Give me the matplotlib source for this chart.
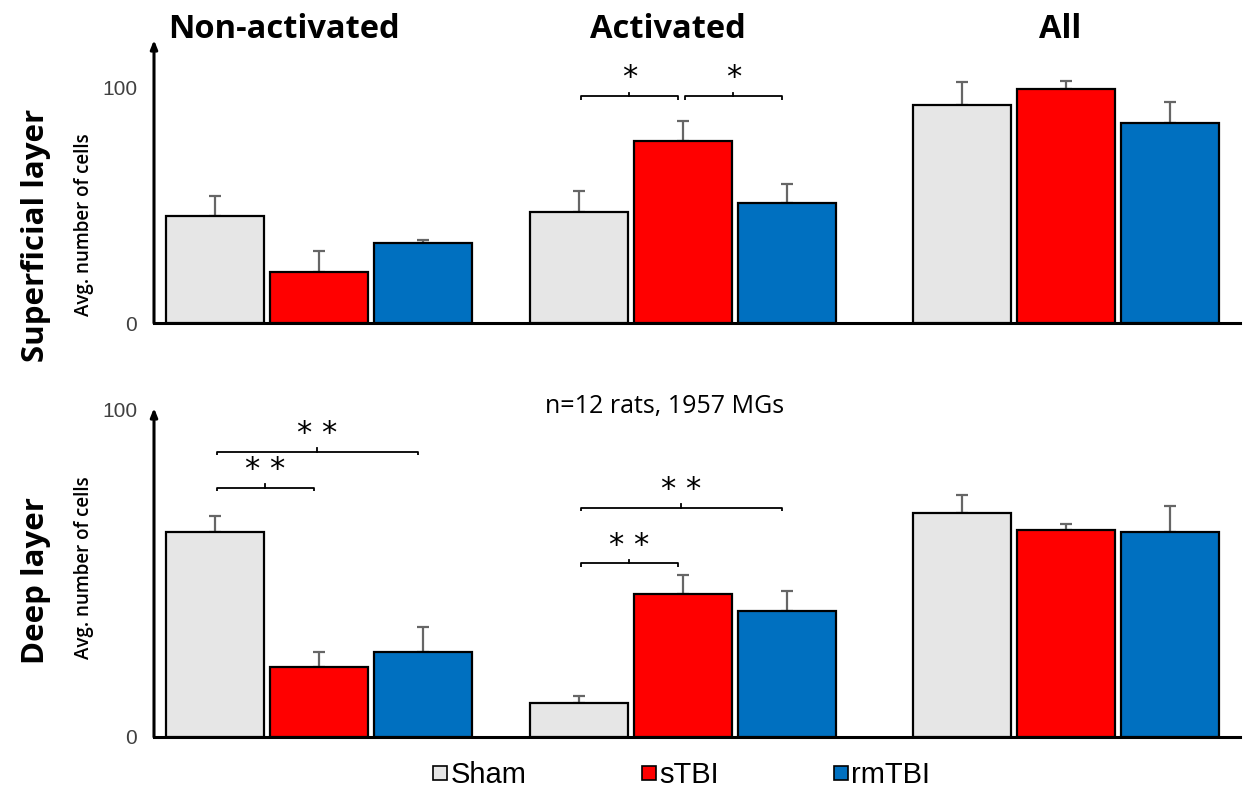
import matplotlib
matplotlib.use("Agg")
import matplotlib.pyplot as plt
from matplotlib.lines import Line2D
import numpy as np

categories = ["Non-activated", "Activated", "All"]
groups = ["Sham", "sTBI", "rmTBI"]
colors = ["#E6E6E6", "#FF0000", "#0070C0"]

# Superficial layer: values per group (Sham, sTBI, rmTBI) across categories
sup_sham = [45.4, 47.1, 92.6]
sup_stbi = [21.6, 77.2, 99.1]
sup_rm = [33.8, 51.0, 84.9]
sup_sham_err = [8.5, 8.9, 9.5]
sup_stbi_err = [9.1, 8.6, 3.4]
sup_rm_err = [1.3, 8.1, 8.8]

# Deep layer
deep_sham = [62.5, 10.4, 68.5]
deep_stbi = [21.3, 43.6, 63.3]
deep_rm = [25.9, 38.4, 62.6]
deep_sham_err = [4.9, 2.1, 5.5]
deep_stbi_err = [4.6, 5.8, 1.9]
deep_rm_err = [7.6, 6.1, 8.1]

# significance brackets: (category index, bar a, bar b, height, label)
sup_sig = [(1, 0, 1, 96.2, "*"), (1, 1, 2, 96.2, "*")]
deep_sig = [(0, 0, 1, 76.2, "* *"), (0, 0, 2, 87.2, "* *"),
            (1, 0, 1, 53.0, "* *"), (1, 0, 2, 70.1, "* *")]

group_x = np.array([0.0, 3.5, 7.18])
step = 1.0
width = 0.94

W, H = 1244, 792
fig = plt.figure(figsize=(W / 100, H / 100), dpi=100)

def fx(px):
    return px / W

def fy(py):
    return 1 - py / H

x_left, x_right = 154, 1240
ax_top = fig.add_axes([fx(x_left), fy(323), fx(x_right - x_left), fy(40) - fy(323)])
ax_bot = fig.add_axes([fx(x_left), fy(737), fx(x_right - x_left), fy(408) - fy(737)])

xlim = ((x_left - 319) / 104.0, (x_right - 319) / 104.0)

def draw(ax, vals, errs, ymax, sigs, tick_dy):
    for i, (v, e) in enumerate(zip(vals, errs)):
        xs = group_x + (i - 1) * step
        ax.bar(xs, v, width=width, color=colors[i], edgecolor="black", linewidth=1.6, zorder=3)
        ax.errorbar(xs, v, yerr=[np.zeros(len(e)), e], fmt="none", ecolor="#666666",
                    elinewidth=1.6, capsize=4, capthick=1.6, zorder=2)
    ax.set_xlim(*xlim)
    ax.set_ylim(0, ymax)
    for s in ["top", "right", "left"]:
        ax.spines[s].set_visible(False)
    ax.spines["bottom"].set_linewidth(2.2)
    ax.set_xticks([])
    ax.set_yticks([0, 100])
    ax.tick_params(axis="y", length=0, pad=12, labelsize=15, labelcolor="#404040")
    for t in ax.get_yticklabels():
        t.set_fontfamily("Liberation Sans")
    ax.annotate("", xy=(0, 1), xytext=(0, 0), xycoords="axes fraction",
                arrowprops=dict(arrowstyle="-|>,head_length=0.5,head_width=0.2",
                                lw=2.2, color="black", shrinkA=0, shrinkB=0))
    for (c, a, b, y, lab) in sigs:
        xa = group_x[c] + (a - 1) * step + 0.02
        xb = group_x[c] + (b - 1) * step - 0.05
        xm = (xa + xb) / 2
        ax.plot([xa, xa, xb, xb], [y - tick_dy, y, y, y - tick_dy], color="black", lw=1.3,
                solid_capstyle="butt", zorder=4)
        ax.plot([xm, xm], [y, y + tick_dy * 0.8], color="black", lw=1.3, zorder=4)
        ax.text(xm, y + tick_dy * 1.0, lab, ha="center", va="bottom", fontsize=22,
                family="DejaVu Sans", zorder=4)

draw(ax_top, [sup_sham, sup_stbi, sup_rm], [sup_sham_err, sup_stbi_err, sup_rm_err],
     120, sup_sig, 1.6)
draw(ax_bot, [deep_sham, deep_stbi, deep_rm], [deep_sham_err, deep_stbi_err, deep_rm_err],
     100.5, deep_sig, 1.2)

# category titles
for name, px in zip(categories, [284, 668, 1060]):
    fig.text(fx(px), fy(30), name, ha="center", va="center", fontsize=23.5,
             fontweight="bold", family="Open Sans")

# row labels
fig.text(fx(36), fy(235), "Superficial layer", rotation=90, ha="center", va="center",
         fontsize=22.5, fontweight="bold", family="Open Sans")
fig.text(fx(36), fy(580), "Deep layer", rotation=90, ha="center", va="center",
         fontsize=22.5, fontweight="bold", family="Open Sans")
for py in [225, 568]:
    fig.text(fx(84), fy(py), "Avg. number of cells", rotation=90, ha="center", va="center",
             fontsize=13.5, fontweight="semibold", family="Open Sans")

fig.text(fx(665), fy(406), "n=12 rats, 1957 MGs", ha="center", va="center",
         fontsize=18, family="Open Sans")

handles = [Line2D([], [], marker="s", linestyle="none", markersize=10.5,
                  markerfacecolor=c, markeredgecolor="black", markeredgewidth=1.2)
           for c in colors]
fig.legend(handles, groups, loc="center", bbox_to_anchor=(fx(681), fy(775)), ncol=3,
           frameon=False, prop={"family": "Liberation Sans", "size": 21},
           handletextpad=0.05, columnspacing=3.9, handlelength=0.6)

fig.savefig("out.png", dpi=100)
